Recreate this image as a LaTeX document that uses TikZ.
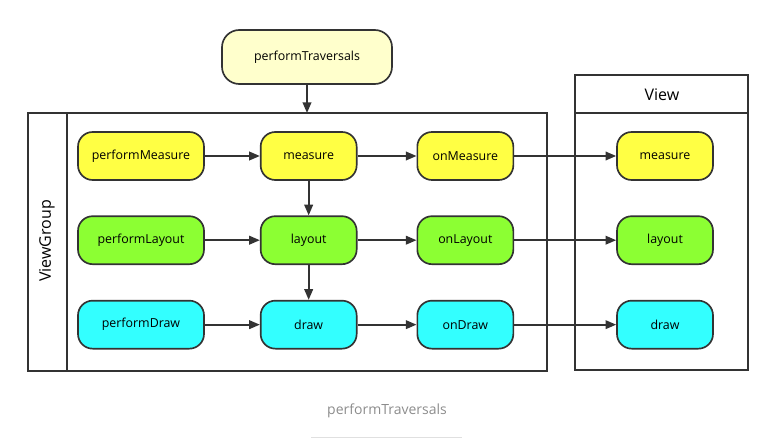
\documentclass[tikz,border=0pt]{standalone}
\usepackage{fontspec}
\setmainfont{Open Sans}
\usetikzlibrary{arrows.meta,positioning}
\definecolor{travfill}{HTML}{FFFFCC}
\definecolor{yelfill}{HTML}{FFFF44}
\definecolor{grnfill}{HTML}{8CFF33}
\definecolor{cyanfill}{HTML}{33FFFF}
\definecolor{linecol}{HTML}{333333}
\begin{document}
\begin{tikzpicture}[->,>={Triangle[length=8pt,width=6.5pt]},x=0.75pt,y=-0.75pt,
					line width=1.25pt,draw=linecol,
					main node/.style={draw=linecol,rounded corners=11pt,minimum width=72pt,minimum height=36pt,
					inner sep=0pt,font=\fontsize{9.3}{11}\selectfont},
					wide node/.style={main node,minimum width=94.5pt},
					frame/.style={-,draw=linecol,line width=1.25pt}]

					\useasboundingbox (0,0) rectangle (775,442);

					% containers
					\draw[frame] (28,113) rectangle (547,371);
					\draw[frame] (67,113) -- (67,371);
					\draw[frame] (575,75) rectangle (748,370);
					\draw[frame] (575,113) -- (748,113);
					\node[rotate=90,font=\fontsize{12}{14}\selectfont] (vglabel) at (47,241) {ViewGroup};
					\node[font=\fontsize{12}{14}\selectfont] (vlabel) at (662,95) {View};
					\coordinate (vgtop) at (307,113);

					\node[main node,fill=travfill,minimum width=127.5pt,minimum height=40.5pt,rounded corners=13pt] (trav) at (307,57) {performTraversals};

					% measure row
					\node[wide node,fill=yelfill] (pmeasure) at (141,156) {performMeasure};
					\node[main node,fill=yelfill] (measure) [right=41.25pt of pmeasure] {measure};
					\node[main node,fill=yelfill] (onmeasure) [right=44.25pt of measure] {onMeasure};
					\node[main node,fill=yelfill] (vmeasure) [right=76.5pt of onmeasure] {measure};

					% layout row
					\node[wide node,fill=grnfill] (playout) [below=25.9pt of pmeasure] {performLayout};
					\node[main node,fill=grnfill] (layout) [below=25.9pt of measure] {layout};
					\node[main node,fill=grnfill] (onlayout) [below=25.9pt of onmeasure] {onLayout};
					\node[main node,fill=grnfill] (vlayout) [below=25.9pt of vmeasure] {layout};

					% draw row
					\node[wide node,fill=cyanfill] (pdraw) [below=26.1pt of playout] {performDraw};
					\node[main node,fill=cyanfill] (draw) [below=26.1pt of layout] {draw};
					\node[main node,fill=cyanfill] (ondraw) [below=26.1pt of onlayout] {onDraw};
					\node[main node,fill=cyanfill] (vdraw) [below=26.1pt of vlayout] {draw};

					\path[draw=linecol]
					(trav) edge (vgtop)
					(pmeasure) edge (measure)
					(measure) edge (onmeasure)
					(onmeasure) edge (vmeasure)
					(measure) edge (layout)
					(playout) edge (layout)
					(layout) edge (onlayout)
					(onlayout) edge (vlayout)
					(layout) edge (draw)
					(pdraw) edge (draw)
					(draw) edge (ondraw)
					(ondraw) edge (vdraw);

					% caption
					\node[text=black!45,font=\fontsize{10.5}{12}\selectfont] (caption) at (387,411) {performTraversals};
					\draw[-,draw=black!12,line width=0.6pt] (311,437) -- (462,437);

				\end{tikzpicture}
\end{document}
